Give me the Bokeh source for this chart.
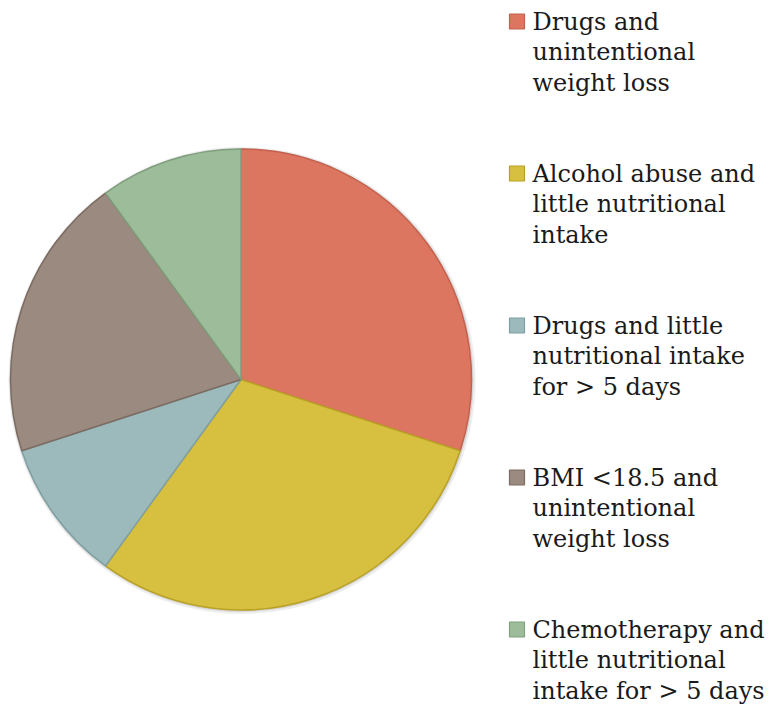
import math
from bokeh.plotting import figure
from bokeh.models import Range1d
from bokeh.core.properties import value
from bokeh.embed import file_html
from bokeh.resources import INLINE

# Data
categories = [
    "Drugs and\nunintentional\nweight loss",
    "Alcohol abuse and\nlittle nutritional\nintake",
    "Drugs and little\nnutritional intake\nfor > 5 days",
    "BMI <18.5 and\nunintentional\nweight loss",
    "Chemotherapy and\nlittle nutritional\nintake for > 5 days",
]
shares = [30, 30, 10, 20, 10]
fill_colors = ["#DD7661", "#D7BF3F", "#9CB9BC", "#9B8A80", "#9DBD9A"]
edge_colors = ["#C4604C", "#B9A125", "#7FA0A3", "#7C6B61", "#80A07D"]

W, H = 770, 705
p = figure(width=W, height=H, output_backend="svg", toolbar_location=None,
           x_range=Range1d(0, W), y_range=Range1d(0, H), min_border=0)
p.axis.visible = False
p.grid.visible = False
p.outline_line_color = None
p.background_fill_color = "white"
p.border_fill_color = "white"

cx, cy, r = 240.5, H - 379, 230.5

# soft shadow ring behind the pie
p.circle(x=cx + 1, y=cy - 1, radius=r + 3, fill_color="#BBBBBB", fill_alpha=0.25, line_color=None)
p.circle(x=cx + 0.5, y=cy - 0.5, radius=r + 1.5, fill_color="#AAAAAA", fill_alpha=0.35, line_color=None)

total = float(sum(shares))
start = math.pi / 2
starts, ends = [], []
for s in shares:
    end = start - 2 * math.pi * s / total
    starts.append(start)
    ends.append(end)
    start = end

p.wedge(x=[cx] * len(shares), y=[cy] * len(shares), radius=r,
        start_angle=starts, end_angle=ends, direction="clock",
        fill_color=fill_colors, line_color=edge_colors, line_width=1.5)

# Legend: swatch + wrapped label lines
sq_x, first_sq_y, step = 516.5, 21, 152
text_x, first_line_y = 532, 21
line_gap = 30.5
for i, (lab, fc, ec) in enumerate(zip(categories, fill_colors, edge_colors)):
    p.rect(x=sq_x, y=H - (first_sq_y + i * step), width=15, height=15,
           fill_color=fc, line_color=ec, line_width=1.2)
    for j, line in enumerate(lab.split("\n")):
        p.text(x=text_x, y=H - (first_line_y + i * step + j * line_gap), text=[line],
               text_font=value("DejaVu Serif"), text_font_size="24px",
               text_color="#1a1a1a", text_baseline="alphabetic", text_align="left")

open("out.html", "w").write(file_html(p, INLINE))
